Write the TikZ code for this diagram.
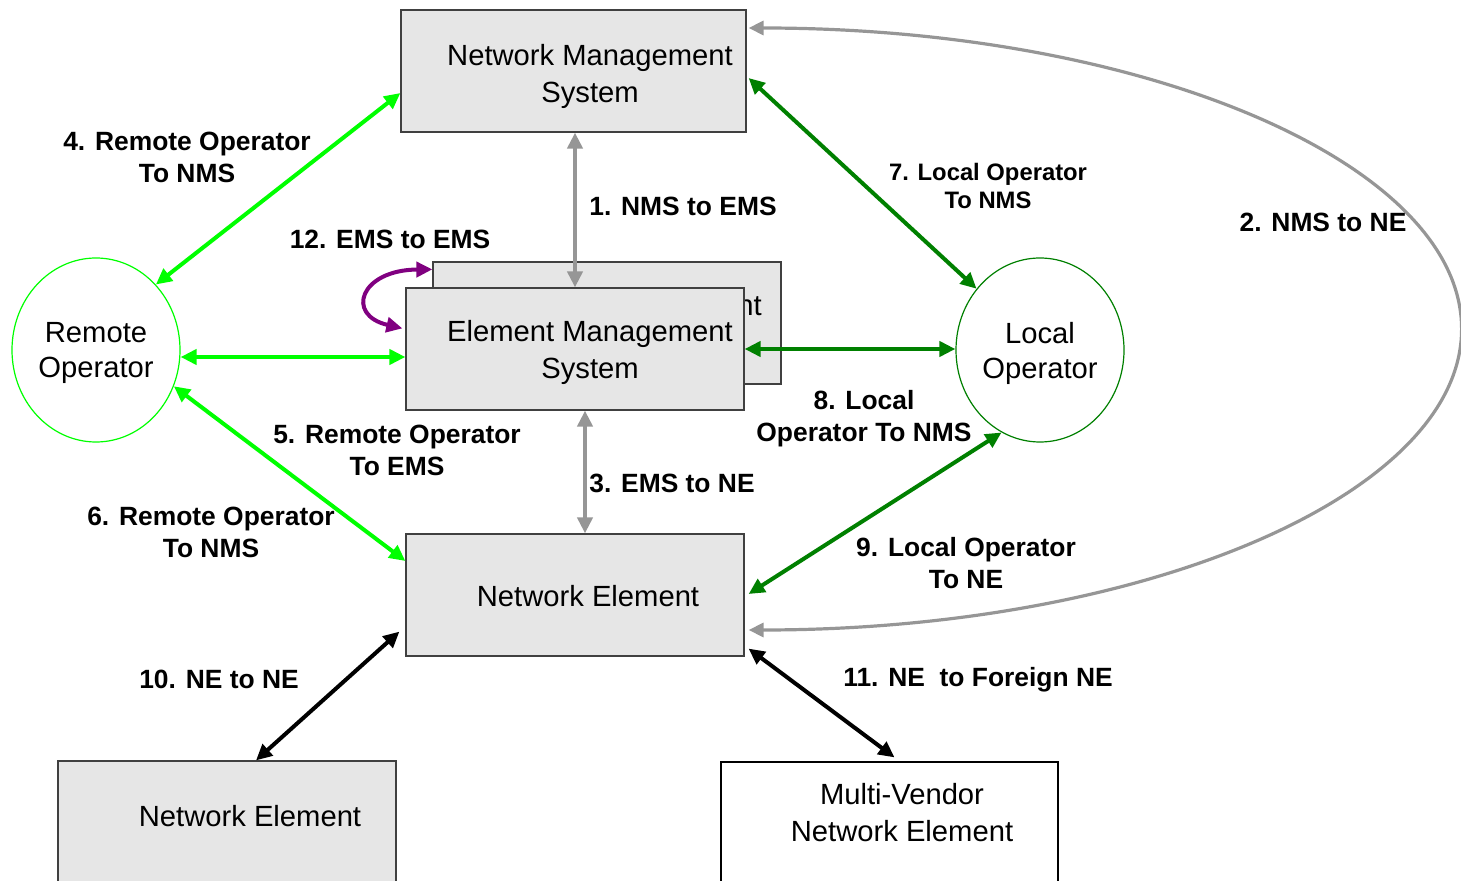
\documentclass[tikz,border=0pt]{standalone}
\usepackage{fontspec}
\setmainfont{Liberation Sans}
\usetikzlibrary{arrows.meta,calc,shapes.geometric}
\definecolor{boxgray}{HTML}{E6E6E6}
\definecolor{boxline}{HTML}{404040}
\definecolor{linkgray}{HTML}{969696}
\definecolor{litegreen}{HTML}{00FF00}
\definecolor{darkgreen}{HTML}{008000}
\definecolor{purp}{HTML}{800080}

\tikzset{
  sysbox/.style={draw=boxline, line width=0.6pt, fill=boxgray, inner sep=0pt,
                 minimum width=#1},
  sysbox/.default=169pt,
  boxtext/.style={font=\fontsize{14.6}{18.5}\selectfont, align=center, inner sep=0pt},
  operator/.style={ellipse, line width=0.6pt, fill=white, inner sep=0pt,
                   minimum width=84pt, minimum height=92pt},
  optext/.style={font=\fontsize{14.6}{17.5}\selectfont, align=center, inner sep=0pt},
  tag/.style={font=\fontsize{13.2}{16}\selectfont\bfseries, align=center, inner sep=0pt},
  smalltag/.style={font=\fontsize{11.9}{14}\selectfont\bfseries, align=center, inner sep=0pt},
  link/.style={line width=2pt, {Triangle[length=8pt,width=7.5pt]}-{Triangle[length=8pt,width=7.5pt]}},
}

\begin{document}
\begin{tikzpicture}[x=0.5pt, y=-0.5pt]
  \useasboundingbox (0,0) rectangle (1461,881);
  \clip (0,0) rectangle (1461,881);

  % management and element boxes
  \node[sysbox=172.5pt, minimum height=61pt] (nms) at (573.5,71) {};
  \node[boxtext] (nmsT) at (590,76) {Network Management\\System};

  \node[sysbox=174pt, minimum height=61pt] (emsB) at (607,323) {};
  \node[boxtext] (emsBT) at (619,326) {Element Management\\System};
  \node[sysbox, minimum height=61pt] (ems) at (575,349) {};
  \node[boxtext] (emsT) at (590,352) {Element Management\\System};

  \node[sysbox, minimum height=61pt] (ne) at (575,595) {};
  \node[boxtext] (neT) at (588,596) {Network Element};

  \node[sysbox, minimum height=69.5pt] (ne2) at (227,830.5) {};
  \node[boxtext] (ne2T) at (250,816) {Network Element};

  \node[sysbox=168.5pt, minimum height=69pt, fill=white, draw=black] (mv) at (889.5,831) {};
  \node[boxtext] (mvT) at (902,813) {Multi-Vendor\\Network Element};

  % operators
  \node[operator, draw=litegreen] (remote) at (96,350) {};
  \node[optext] (remoteT) at (96,353) {Remote\\Operator};
  \node[operator, draw=darkgreen] (local) at (1040,350) {};
  \node[optext] (localT) at (1040,353) {Local\\Operator};

  % NMS / EMS / NE links
  \draw[link, linkgray, line width=2.4pt] (ems.north) -- (ems.north |- nms.south);
  \draw[link, linkgray, line width=2.4pt] ($(ems.south)+(10,0)$) -- ($(ne.north)+(10,0)$);
  \coordinate (arcTop) at ($(nms.east)+(2,-43)$);
  \draw[line width=1.6pt, linkgray, {Triangle[length=7.5pt,width=7pt]}-{Triangle[length=7.5pt,width=7pt]}]
    (arcTop) arc[start angle=-90, end angle=90, x radius=713, y radius=301];

  % remote operator links
  \draw[link, litegreen] (remote.north east) -- ($(nms.west)+(0,22)$);
  \draw[link, litegreen] ($(remote.east)+(0,7)$) -- ($(ems.west)+(0,8)$);
  \draw[link, litegreen] (remote.-25) -- ($(ne.west)+(0,-34)$);

  % local operator links
  \draw[link, darkgreen] ($(nms.east)+(2,7)$) -- (local.136);
  \draw[link, darkgreen] (ems.east) -- (ems.east -| local.west);
  \draw[link, darkgreen] ($(ne.east)+(4,-1)$) -- (local.-115);

  % element to element links
  \draw[link, black] ($(ne.south west)+(-6,-25)$) -- ($(ne2.north)+(29,0)$);
  \draw[link, black] ($(ne.south east)+(4,-8)$) -- ($(mv.north)+(5,-4)$);

  % EMS to EMS
  \draw[link, purp] ($(ems.north west)+(-3,41)$)
    .. controls (345,315) and (360,270) .. ($(emsB.north west)+(0,8)$);

  % link labels
  \node[tag] (l4) at (187,157) {4. Remote Operator\\To NMS};
  \node[tag] (l1) at (683,206) {1. NMS to EMS};
  \node[tag] (l12) at (390,239) {12. EMS to EMS};
  \node[smalltag] (l7) at (988,186) {7. Local Operator\\To NMS};
  \node[tag] (l2) at (1323,222) {2. NMS to NE};
  \node[tag] (l8) at (864,419) {8. Local\\Operator To NMS};
  \node[tag] (l5) at (397,450) {5. Remote Operator\\To EMS};
  \node[tag] (l3) at (672,483) {3. EMS to NE};
  \node[tag] (l6) at (211,532) {6. Remote Operator\\To NMS};
  \node[tag] (l9) at (966,563) {9. Local Operator\\To NE};
  \node[tag] (l10) at (219,679) {10. NE to NE};
  \node[tag] (l11) at (978,680) {11. NE\ \ to Foreign NE};
\end{tikzpicture}
\end{document}
